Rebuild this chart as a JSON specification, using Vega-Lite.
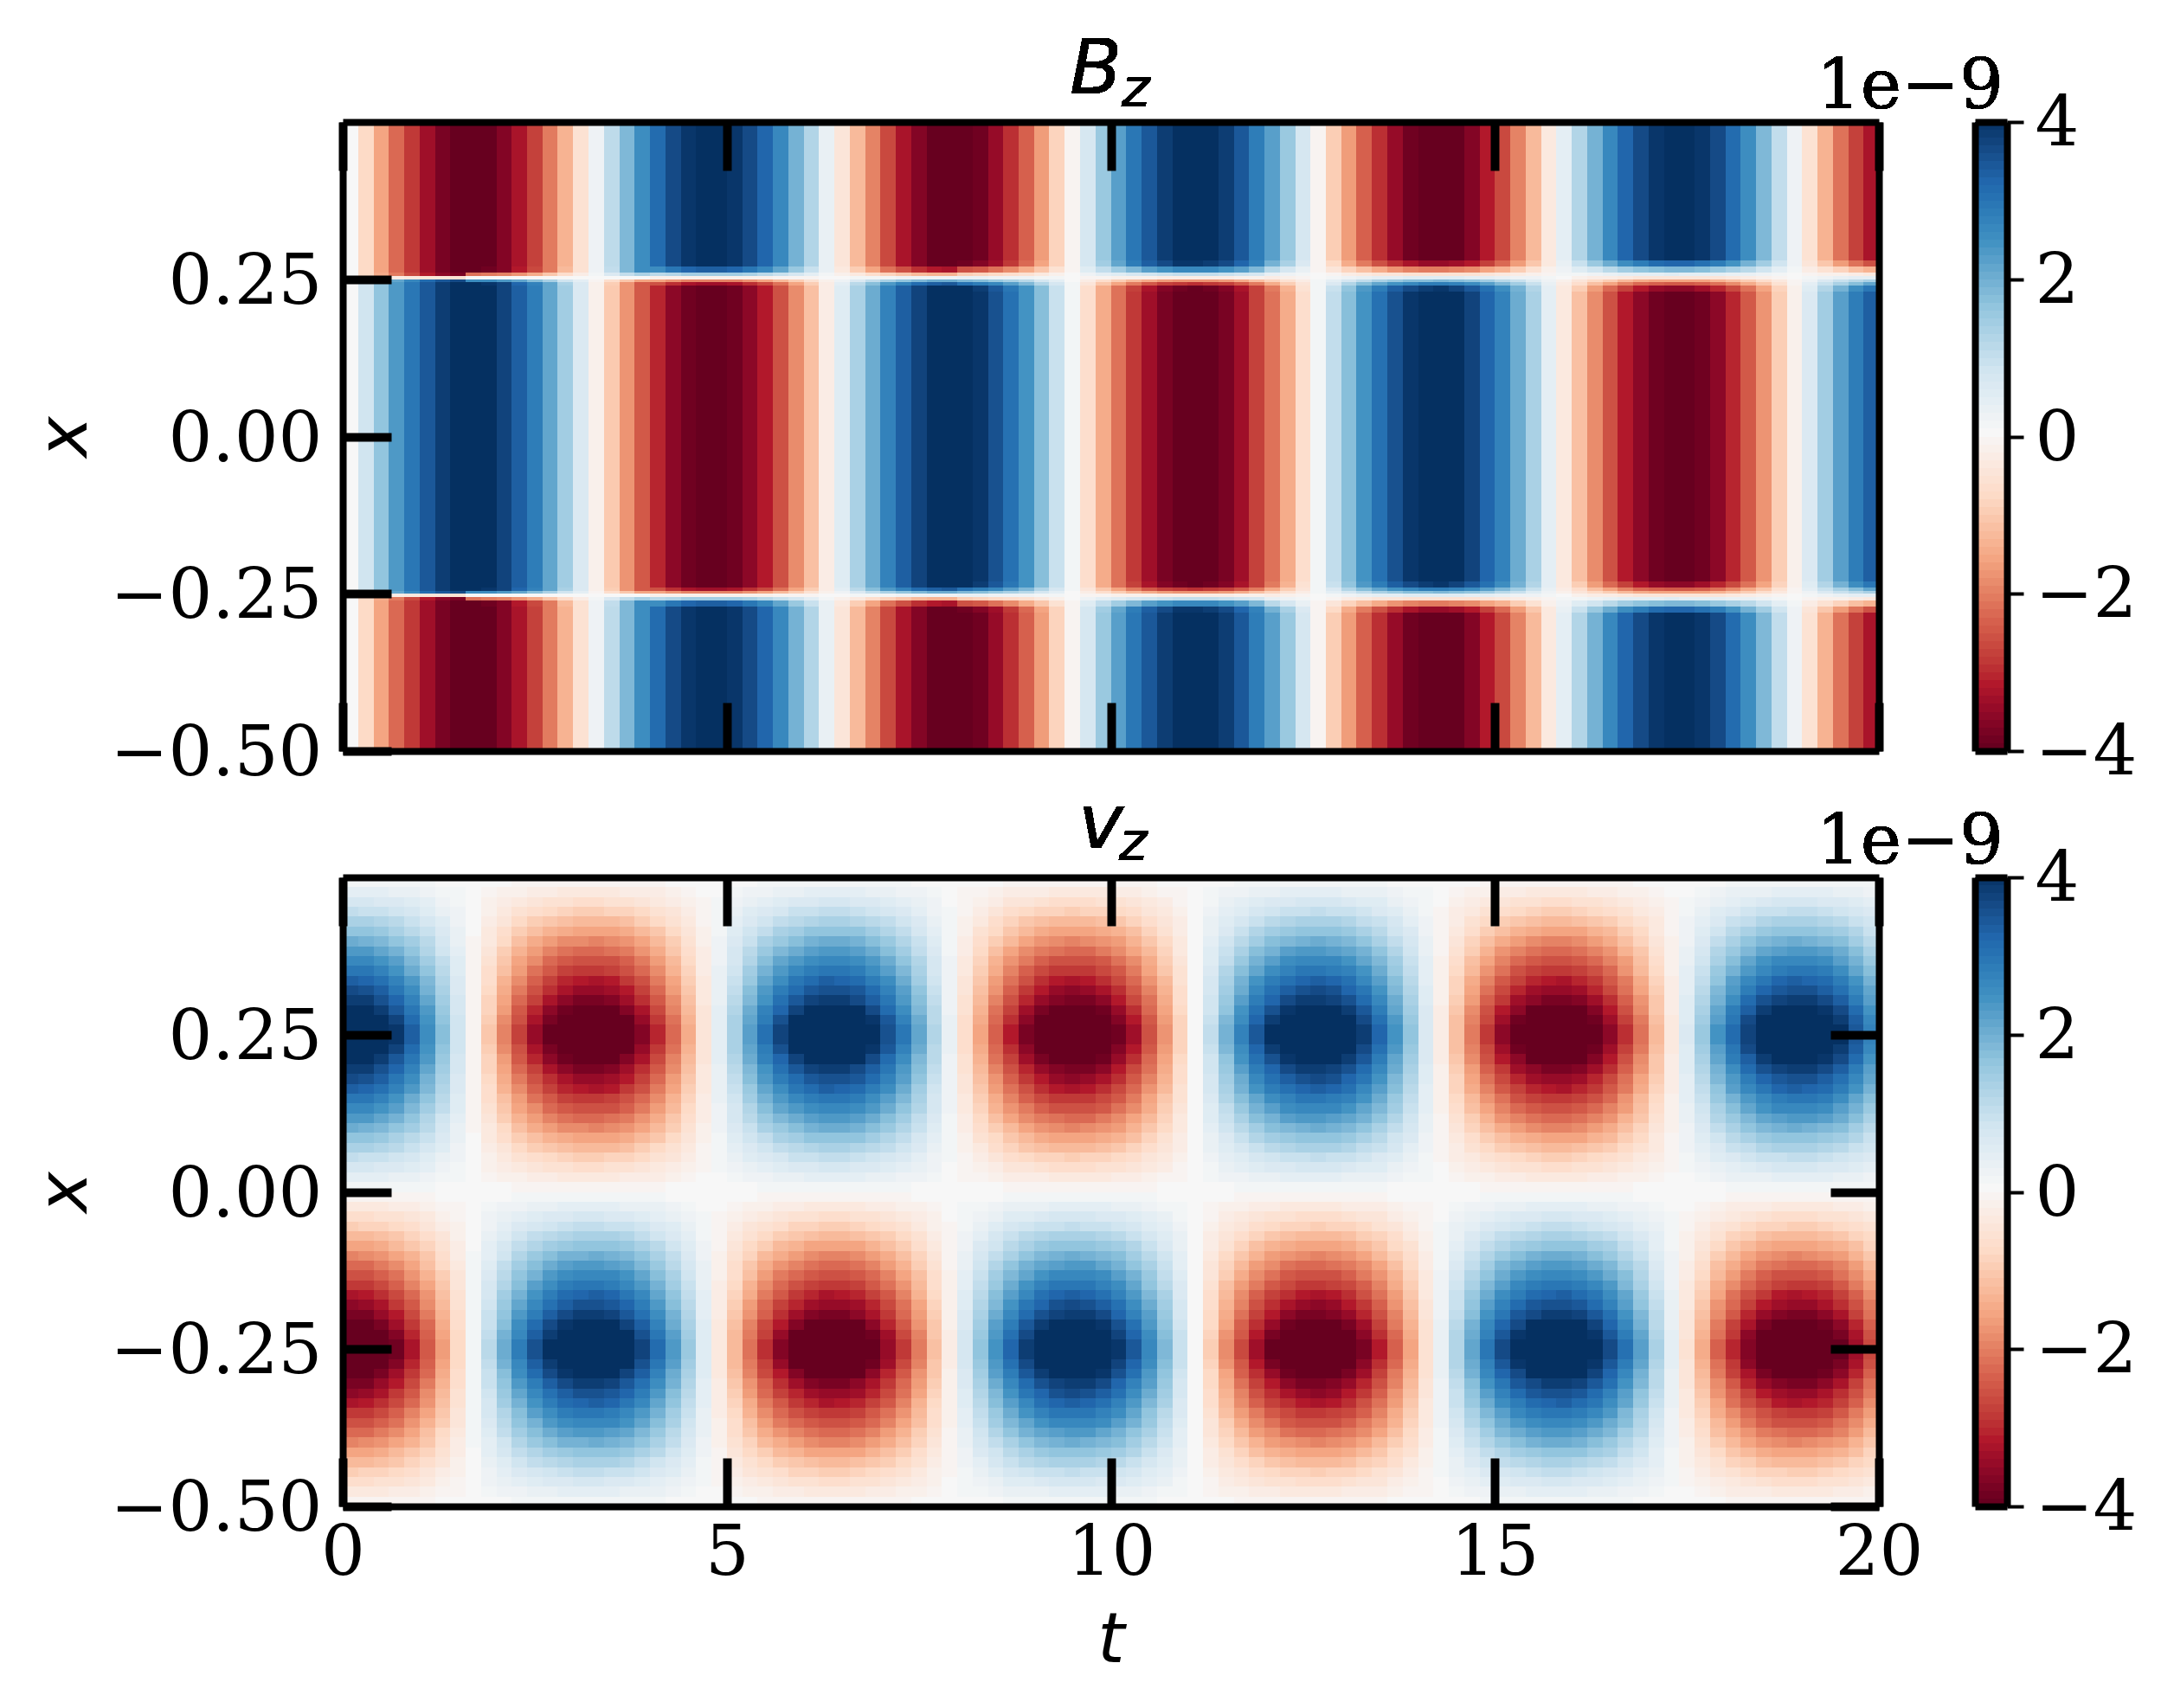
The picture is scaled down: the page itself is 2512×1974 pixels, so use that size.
{"$schema":"https://vega.github.io/schema/vega-lite/v6.json","padding":{"left":35,"top":38,"right":0,"bottom":0},"background":"white","config":{"view":{"stroke":null},"axis":{"grid":false,"domainColor":"black","domainWidth":8,"tickColor":"black","tickWidth":10,"tickSize":-56,"labelFlush":false,"labelOverlap":false,"labelFont":"DejaVu Serif","labelFontSize":80,"labelColor":"black","labelLimit":500,"titleFont":"DejaVu Sans","titleFontSize":80,"titleFontWeight":"normal","titleFontStyle":"italic","titleColor":"black"}},"datasets":{
"bk":[{"k":"o","y1":0.5,"y2":0.28,"y3":-0.5,"y4":-0.28},{"k":"m","y1":0.23,"y2":-0.23,"y3":0.23,"y4":-0.23},{"k":"b","y1":0.28,"y2":0.27,"y3":-0.28,"y4":-0.27},{"k":"c","y1":0.27,"y2":0.26,"y3":-0.27,"y4":-0.26},{"k":"d","y1":0.26,"y2":0.255,"y3":-0.26,"y4":-0.255},{"k":"e","y1":0.255,"y2":0.25,"y3":-0.255,"y4":-0.25},{"k":"f","y1":0.25,"y2":0.245,"y3":-0.25,"y4":-0.245},{"k":"g","y1":0.245,"y2":0.24,"y3":-0.245,"y4":-0.24},{"k":"h","y1":0.24,"y2":0.23,"y3":-0.24,"y4":-0.23}],
"bz":[
{"t":0,"u":0.2,"o":0,"m":0,"b":0,"c":0,"d":0,"e":0,"f":0,"g":0,"h":0},
{"t":0.2,"u":0.4,"o":-0.8,"m":0.8,"b":-0.8,"c":-0.8,"d":-0.8,"e":-0.1,"f":0.7,"g":0.8,"h":0.8},
{"t":0.4,"u":0.6,"o":-1.6,"m":1.6,"b":-1.6,"c":-1.6,"d":-1.5,"e":-0.2,"f":1.4,"g":1.6,"h":1.6},
{"t":0.6,"u":0.8,"o":-2.3,"m":2.3,"b":-2.3,"c":-2.3,"d":-2.1,"e":-0.3,"f":2.1,"g":2.3,"h":2.3},
{"t":0.8,"u":1,"o":-2.9,"m":2.9,"b":-2.9,"c":-2.9,"d":-2.7,"e":-0.4,"f":2.6,"g":2.9,"h":2.9},
{"t":1,"u":1.2,"o":-3.4,"m":3.4,"b":-3.4,"c":-3.4,"d":-3.2,"e":-0.5,"f":3.1,"g":3.4,"h":3.4},
{"t":1.2,"u":1.4,"o":-3.8,"m":3.8,"b":-3.8,"c":-3.8,"d":-3.6,"e":-0.5,"f":3.4,"g":3.8,"h":3.8},
{"t":1.4,"u":1.6,"o":-4,"m":4,"b":-4,"c":-4,"d":-3.8,"e":-0.6,"f":3.6,"g":4,"h":4},
{"t":1.6,"u":1.8,"o":-4.1,"m":4.1,"b":-4.1,"c":-4,"d":-2.2,"e":0,"f":2.5,"g":4,"h":4.1},
{"t":1.8,"u":2,"o":-4,"m":4,"b":-4,"c":-3.9,"d":-2.1,"e":0,"f":2.5,"g":3.9,"h":4},
{"t":2,"u":2.2,"o":-3.7,"m":3.7,"b":-3.7,"c":-3.7,"d":-2,"e":0,"f":2.3,"g":3.7,"h":3.7},
{"t":2.2,"u":2.4,"o":-3.3,"m":3.3,"b":-3.3,"c":-3.2,"d":-1.8,"e":0,"f":2.1,"g":3.2,"h":3.3},
{"t":2.4,"u":2.6,"o":-2.8,"m":2.8,"b":-2.8,"c":-2.7,"d":-1.5,"e":0,"f":1.7,"g":2.7,"h":2.8},
{"t":2.6,"u":2.8,"o":-2.1,"m":2.1,"b":-2.1,"c":-2.1,"d":-1.1,"e":0,"f":1.3,"g":2.1,"h":2.1},
{"t":2.8,"u":3,"o":-1.4,"m":1.4,"b":-1.4,"c":-1.3,"d":-0.7,"e":0,"f":0.8,"g":1.3,"h":1.4},
{"t":3,"u":3.2,"o":-0.6,"m":0.6,"b":-0.6,"c":-0.6,"d":-0.3,"e":0,"f":0.4,"g":0.6,"h":0.6},
{"t":3.2,"u":3.4,"o":0.2,"m":-0.2,"b":0.2,"c":0.2,"d":0.1,"e":0,"f":-0.1,"g":-0.2,"h":-0.2},
{"t":3.4,"u":3.6,"o":1.05,"m":-1.05,"b":1.05,"c":1,"d":0.6,"e":0,"f":-0.7,"g":-1,"h":-1.05},
{"t":3.6,"u":3.8,"o":1.8,"m":-1.8,"b":1.8,"c":1.8,"d":1,"e":0,"f":-1.1,"g":-1.8,"h":-1.8},
{"t":3.8,"u":4,"o":2.5,"m":-2.5,"b":2.5,"c":2.5,"d":1.3,"e":0,"f":-1.6,"g":-2.5,"h":-2.5},
{"t":4,"u":4.2,"o":3.1,"m":-3.1,"b":3.1,"c":2.5,"d":1.1,"e":-0.2,"f":-1.6,"g":-2.6,"h":-3.1},
{"t":4.2,"u":4.4,"o":3.6,"m":-3.6,"b":3.6,"c":2.9,"d":1.2,"e":-0.2,"f":-1.8,"g":-3,"h":-3.6},
{"t":4.4,"u":4.6,"o":3.9,"m":-3.9,"b":3.9,"c":3.2,"d":1.4,"e":-0.2,"f":-2,"g":-3.3,"h":-3.9},
{"t":4.6,"u":4.8,"o":4.1,"m":-4.1,"b":4.1,"c":3.3,"d":1.4,"e":-0.2,"f":-2,"g":-3.4,"h":-4.1},
{"t":4.8,"u":5,"o":4.1,"m":-4.1,"b":4.1,"c":3.3,"d":1.4,"e":-0.2,"f":-2,"g":-3.4,"h":-4.1},
{"t":5,"u":5.2,"o":3.9,"m":-3.9,"b":3.9,"c":3.2,"d":1.4,"e":-0.2,"f":-2,"g":-3.3,"h":-3.9},
{"t":5.2,"u":5.4,"o":3.6,"m":-3.6,"b":3.6,"c":2.9,"d":1.3,"e":-0.2,"f":-1.8,"g":-3,"h":-3.6},
{"t":5.4,"u":5.6,"o":3.2,"m":-3.2,"b":3.2,"c":2.6,"d":1.1,"e":-0.2,"f":-1.6,"g":-2.7,"h":-3.2},
{"t":5.6,"u":5.8,"o":2.6,"m":-2.6,"b":2.6,"c":2.1,"d":0.9,"e":-0.1,"f":-1.3,"g":-2.2,"h":-2.6},
{"t":5.8,"u":6,"o":1.9,"m":-1.9,"b":1.9,"c":1.5,"d":0.7,"e":-0.1,"f":-1,"g":-1.6,"h":-1.9},
{"t":6,"u":6.2,"o":1.2,"m":-1.2,"b":1.2,"c":0.9,"d":0.4,"e":-0.1,"f":-0.6,"g":-1,"h":-1.2},
{"t":6.2,"u":6.4,"o":0.3,"m":-0.3,"b":0.3,"c":0.3,"d":0.1,"e":0,"f":-0.2,"g":-0.3,"h":-0.3},
{"t":6.4,"u":6.6,"o":-0.5,"m":0.5,"b":-0.5,"c":-0.4,"d":-0.2,"e":0,"f":0.2,"g":0.4,"h":0.5},
{"t":6.6,"u":6.8,"o":-1.3,"m":1.3,"b":-1.3,"c":-1,"d":-0.4,"e":0.1,"f":0.6,"g":1.1,"h":1.3},
{"t":6.8,"u":7,"o":-2,"m":2,"b":-2,"c":-1.6,"d":-0.7,"e":0.1,"f":1,"g":1.7,"h":2},
{"t":7,"u":7.2,"o":-2.7,"m":2.7,"b":-2.7,"c":-2.2,"d":-0.9,"e":0.1,"f":1.3,"g":2.3,"h":2.7},
{"t":7.2,"u":7.4,"o":-3.3,"m":3.3,"b":-3.3,"c":-2.6,"d":-1.1,"e":0.2,"f":1.6,"g":2.7,"h":3.3},
{"t":7.4,"u":7.6,"o":-3.7,"m":3.7,"b":-3.7,"c":-3,"d":-1.3,"e":0.2,"f":1.8,"g":3.1,"h":3.7},
{"t":7.6,"u":7.8,"o":-4,"m":4,"b":-4,"c":-3.2,"d":-1.4,"e":0.2,"f":2,"g":3.3,"h":4},
{"t":7.8,"u":8,"o":-4.1,"m":4.1,"b":-4.1,"c":-3.3,"d":-1.4,"e":0.2,"f":2,"g":3.4,"h":4.1},
{"t":8,"u":8.2,"o":-4.1,"m":4.1,"b":-3.9,"c":-2.6,"d":-1,"e":0.3,"f":1.8,"g":3,"h":4},
{"t":8.2,"u":8.4,"o":-3.9,"m":3.9,"b":-3.7,"c":-2.5,"d":-0.9,"e":0.3,"f":1.7,"g":2.8,"h":3.8},
{"t":8.4,"u":8.6,"o":-3.5,"m":3.5,"b":-3.4,"c":-2.2,"d":-0.8,"e":0.2,"f":1.5,"g":2.6,"h":3.4},
{"t":8.6,"u":8.8,"o":-3,"m":3,"b":-2.9,"c":-1.9,"d":-0.7,"e":0.2,"f":1.3,"g":2.2,"h":2.9},
{"t":8.8,"u":9,"o":-2.4,"m":2.4,"b":-2.3,"c":-1.5,"d":-0.6,"e":0.2,"f":1.1,"g":1.8,"h":2.4},
{"t":9,"u":9.2,"o":-1.7,"m":1.7,"b":-1.6,"c":-1.1,"d":-0.4,"e":0.1,"f":0.7,"g":1.2,"h":1.7},
{"t":9.2,"u":9.4,"o":-0.9,"m":0.9,"b":-0.9,"c":-0.6,"d":-0.2,"e":0.1,"f":0.4,"g":0.7,"h":0.9},
{"t":9.4,"u":9.6,"o":-0.1,"m":0.1,"b":-0.1,"c":-0.1,"d":0,"e":0,"f":0,"g":0.1,"h":0.1},
{"t":9.6,"u":9.8,"o":0.7,"m":-0.7,"b":0.7,"c":0.5,"d":0.2,"e":-0.1,"f":-0.3,"g":-0.5,"h":-0.7},
{"t":9.8,"u":10,"o":1.5,"m":-1.5,"b":1.4,"c":1,"d":0.4,"e":-0.1,"f":-0.7,"g":-1.1,"h":-1.5},
{"t":10,"u":10.2,"o":2.2,"m":-2.2,"b":2.1,"c":1.4,"d":0.5,"e":-0.2,"f":-1,"g":-1.6,"h":-2.2},
{"t":10.2,"u":10.4,"o":2.9,"m":-2.9,"b":2.8,"c":1.8,"d":0.7,"e":-0.2,"f":-1.3,"g":-2.1,"h":-2.8},
{"t":10.4,"u":10.6,"o":3.4,"m":-3.4,"b":3.3,"c":2.2,"d":0.8,"e":-0.2,"f":-1.5,"g":-2.5,"h":-3.3},
{"t":10.6,"u":10.8,"o":3.8,"m":-3.8,"b":3.6,"c":2.4,"d":0.9,"e":-0.3,"f":-1.7,"g":-2.8,"h":-3.7},
{"t":10.8,"u":11,"o":4,"m":-4,"b":3.9,"c":2.6,"d":1,"e":-0.3,"f":-1.8,"g":-2.9,"h":-3.9},
{"t":11,"u":11.2,"o":4.1,"m":-4.1,"b":3.9,"c":2.6,"d":1,"e":-0.3,"f":-1.8,"g":-3,"h":-4},
{"t":11.2,"u":11.4,"o":4,"m":-4,"b":3.8,"c":2.6,"d":1,"e":-0.3,"f":-1.8,"g":-2.9,"h":-3.9},
{"t":11.4,"u":11.6,"o":3.8,"m":-3.8,"b":3.6,"c":2.4,"d":0.9,"e":-0.3,"f":-1.7,"g":-2.8,"h":-3.7},
{"t":11.6,"u":11.8,"o":3.4,"m":-3.4,"b":3.2,"c":2.2,"d":0.8,"e":-0.2,"f":-1.5,"g":-2.5,"h":-3.3},
{"t":11.8,"u":12,"o":2.8,"m":-2.8,"b":2.7,"c":1.8,"d":0.7,"e":-0.2,"f":-1.2,"g":-2.1,"h":-2.8},
{"t":12,"u":12.2,"o":2.2,"m":-2.2,"b":1.9,"c":1.1,"d":0.3,"e":-0.3,"f":-0.9,"g":-1.5,"h":-2.1},
{"t":12.2,"u":12.4,"o":1.5,"m":-1.5,"b":1.3,"c":0.7,"d":0.2,"e":-0.2,"f":-0.6,"g":-1,"h":-1.4},
{"t":12.4,"u":12.6,"o":0.7,"m":-0.7,"b":0.6,"c":0.3,"d":0.1,"e":-0.1,"f":-0.3,"g":-0.5,"h":-0.6},
{"t":12.6,"u":12.8,"o":-0.1,"m":0.1,"b":-0.1,"c":-0.1,"d":0,"e":0,"f":0.1,"g":0.1,"h":0.1},
{"t":12.8,"u":13,"o":-1,"m":1,"b":-0.8,"c":-0.5,"d":-0.1,"e":0.1,"f":0.4,"g":0.6,"h":0.9},
{"t":13,"u":13.2,"o":-1.7,"m":1.7,"b":-1.5,"c":-0.9,"d":-0.3,"e":0.2,"f":0.7,"g":1.2,"h":1.6},
{"t":13.2,"u":13.4,"o":-2.4,"m":2.4,"b":-2.1,"c":-1.2,"d":-0.4,"e":0.3,"f":1,"g":1.7,"h":2.3},
{"t":13.4,"u":13.6,"o":-3,"m":3,"b":-2.6,"c":-1.5,"d":-0.5,"e":0.4,"f":1.3,"g":2.1,"h":2.8},
{"t":13.6,"u":13.8,"o":-3.5,"m":3.5,"b":-3,"c":-1.8,"d":-0.5,"e":0.4,"f":1.5,"g":2.4,"h":3.3},
{"t":13.8,"u":14,"o":-3.9,"m":3.9,"b":-3.3,"c":-2,"d":-0.6,"e":0.5,"f":1.7,"g":2.6,"h":3.6},
{"t":14,"u":14.2,"o":-4.1,"m":4.1,"b":-3.5,"c":-2.1,"d":-0.6,"e":0.5,"f":1.7,"g":2.8,"h":3.8},
{"t":14.2,"u":14.4,"o":-4.1,"m":4.1,"b":-3.5,"c":-2.1,"d":-0.6,"e":0.5,"f":1.8,"g":2.8,"h":3.9},
{"t":14.4,"u":14.6,"o":-4,"m":4,"b":-3.4,"c":-2,"d":-0.6,"e":0.5,"f":1.7,"g":2.7,"h":3.7},
{"t":14.6,"u":14.8,"o":-3.7,"m":3.7,"b":-3.2,"c":-1.9,"d":-0.6,"e":0.4,"f":1.6,"g":2.5,"h":3.4},
{"t":14.8,"u":15,"o":-3.2,"m":3.2,"b":-2.8,"c":-1.6,"d":-0.5,"e":0.4,"f":1.4,"g":2.2,"h":3},
{"t":15,"u":15.2,"o":-2.7,"m":2.7,"b":-2.3,"c":-1.4,"d":-0.4,"e":0.3,"f":1.1,"g":1.8,"h":2.5},
{"t":15.2,"u":15.4,"o":-2,"m":2,"b":-1.7,"c":-1,"d":-0.3,"e":0.2,"f":0.9,"g":1.4,"h":1.9},
{"t":15.4,"u":15.6,"o":-1.3,"m":1.3,"b":-1.1,"c":-0.6,"d":-0.2,"e":0.2,"f":0.5,"g":0.9,"h":1.2},
{"t":15.6,"u":15.8,"o":-0.4,"m":0.4,"b":-0.4,"c":-0.2,"d":-0.1,"e":0.1,"f":0.2,"g":0.3,"h":0.4},
{"t":15.8,"u":16,"o":0.4,"m":-0.4,"b":0.3,"c":0.2,"d":0.1,"e":0,"f":-0.2,"g":-0.3,"h":-0.4},
{"t":16,"u":16.2,"o":1.2,"m":-1.2,"b":0.9,"c":0.5,"d":0.1,"e":-0.2,"f":-0.5,"g":-0.7,"h":-1},
{"t":16.2,"u":16.4,"o":1.9,"m":-1.9,"b":1.5,"c":0.8,"d":0.2,"e":-0.3,"f":-0.8,"g":-1.2,"h":-1.7},
{"t":16.4,"u":16.6,"o":2.6,"m":-2.6,"b":2,"c":1.1,"d":0.3,"e":-0.3,"f":-1,"g":-1.6,"h":-2.3},
{"t":16.6,"u":16.8,"o":3.2,"m":-3.2,"b":2.5,"c":1.4,"d":0.4,"e":-0.4,"f":-1.3,"g":-2,"h":-2.8},
{"t":16.8,"u":17,"o":3.6,"m":-3.6,"b":2.8,"c":1.6,"d":0.4,"e":-0.5,"f":-1.5,"g":-2.3,"h":-3.2},
{"t":17,"u":17.2,"o":3.9,"m":-3.9,"b":3.1,"c":1.7,"d":0.4,"e":-0.5,"f":-1.6,"g":-2.4,"h":-3.5},
{"t":17.2,"u":17.4,"o":4.1,"m":-4.1,"b":3.2,"c":1.8,"d":0.5,"e":-0.5,"f":-1.6,"g":-2.5,"h":-3.6},
{"t":17.4,"u":17.6,"o":4.1,"m":-4.1,"b":3.2,"c":1.8,"d":0.4,"e":-0.5,"f":-1.6,"g":-2.5,"h":-3.6},
{"t":17.6,"u":17.8,"o":3.9,"m":-3.9,"b":3,"c":1.7,"d":0.4,"e":-0.5,"f":-1.6,"g":-2.4,"h":-3.4},
{"t":17.8,"u":18,"o":3.6,"m":-3.6,"b":2.8,"c":1.5,"d":0.4,"e":-0.5,"f":-1.4,"g":-2.2,"h":-3.1},
{"t":18,"u":18.2,"o":3.1,"m":-3.1,"b":2.4,"c":1.3,"d":0.3,"e":-0.4,"f":-1.2,"g":-1.9,"h":-2.7},
{"t":18.2,"u":18.4,"o":2.5,"m":-2.5,"b":1.9,"c":1.1,"d":0.3,"e":-0.3,"f":-1,"g":-1.5,"h":-2.2},
{"t":18.4,"u":18.6,"o":1.8,"m":-1.8,"b":1.4,"c":0.8,"d":0.2,"e":-0.2,"f":-0.7,"g":-1.1,"h":-1.6},
{"t":18.6,"u":18.8,"o":1,"m":-1,"b":0.8,"c":0.4,"d":0.1,"e":-0.1,"f":-0.4,"g":-0.6,"h":-0.9},
{"t":18.8,"u":19,"o":0.2,"m":-0.2,"b":0.2,"c":0.1,"d":0,"e":0,"f":-0.1,"g":-0.1,"h":-0.2},
{"t":19,"u":19.2,"o":-0.6,"m":0.6,"b":-0.5,"c":-0.3,"d":-0.1,"e":0.1,"f":0.2,"g":0.4,"h":0.5},
{"t":19.2,"u":19.4,"o":-1.4,"m":1.4,"b":-1.1,"c":-0.6,"d":-0.2,"e":0.2,"f":0.6,"g":0.9,"h":1.2},
{"t":19.4,"u":19.6,"o":-2.2,"m":2.2,"b":-1.7,"c":-0.9,"d":-0.2,"e":0.3,"f":0.9,"g":1.3,"h":1.9},
{"t":19.6,"u":19.8,"o":-2.8,"m":2.8,"b":-2.2,"c":-1.2,"d":-0.3,"e":0.4,"f":1.1,"g":1.7,"h":2.5},
{"t":19.8,"u":20,"o":-3.3,"m":3.3,"b":-2.6,"c":-1.4,"d":-0.4,"e":0.4,"f":1.3,"g":2.1,"h":2.9}],
"bv":[
{"k":"a","y1":0.25,"y2":0.265625,"y3":0.25,"y4":0.234375,"y5":-0.25,"y6":-0.234375,"y7":-0.25,"y8":-0.265625},
{"k":"b","y1":0.265625,"y2":0.28125,"y3":0.234375,"y4":0.21875,"y5":-0.234375,"y6":-0.21875,"y7":-0.265625,"y8":-0.28125},
{"k":"c","y1":0.28125,"y2":0.296875,"y3":0.21875,"y4":0.203125,"y5":-0.21875,"y6":-0.203125,"y7":-0.28125,"y8":-0.296875},
{"k":"d","y1":0.296875,"y2":0.3125,"y3":0.203125,"y4":0.1875,"y5":-0.203125,"y6":-0.1875,"y7":-0.296875,"y8":-0.3125},
{"k":"e","y1":0.3125,"y2":0.328125,"y3":0.1875,"y4":0.171875,"y5":-0.1875,"y6":-0.171875,"y7":-0.3125,"y8":-0.328125},
{"k":"f","y1":0.328125,"y2":0.34375,"y3":0.171875,"y4":0.15625,"y5":-0.171875,"y6":-0.15625,"y7":-0.328125,"y8":-0.34375},
{"k":"g","y1":0.34375,"y2":0.359375,"y3":0.15625,"y4":0.140625,"y5":-0.15625,"y6":-0.140625,"y7":-0.34375,"y8":-0.359375},
{"k":"h","y1":0.359375,"y2":0.375,"y3":0.140625,"y4":0.125,"y5":-0.140625,"y6":-0.125,"y7":-0.359375,"y8":-0.375},
{"k":"i","y1":0.375,"y2":0.390625,"y3":0.125,"y4":0.109375,"y5":-0.125,"y6":-0.109375,"y7":-0.375,"y8":-0.390625},
{"k":"j","y1":0.390625,"y2":0.40625,"y3":0.109375,"y4":0.09375,"y5":-0.109375,"y6":-0.09375,"y7":-0.390625,"y8":-0.40625},
{"k":"l","y1":0.40625,"y2":0.421875,"y3":0.09375,"y4":0.078125,"y5":-0.09375,"y6":-0.078125,"y7":-0.40625,"y8":-0.421875},
{"k":"m","y1":0.421875,"y2":0.4375,"y3":0.078125,"y4":0.0625,"y5":-0.078125,"y6":-0.0625,"y7":-0.421875,"y8":-0.4375},
{"k":"n","y1":0.4375,"y2":0.453125,"y3":0.0625,"y4":0.046875,"y5":-0.0625,"y6":-0.046875,"y7":-0.4375,"y8":-0.453125},
{"k":"p","y1":0.453125,"y2":0.46875,"y3":0.046875,"y4":0.03125,"y5":-0.046875,"y6":-0.03125,"y7":-0.453125,"y8":-0.46875},
{"k":"q","y1":0.46875,"y2":0.484375,"y3":0.03125,"y4":0.015625,"y5":-0.03125,"y6":-0.015625,"y7":-0.46875,"y8":-0.484375},
{"k":"r","y1":0.484375,"y2":0.5,"y3":0.015625,"y4":0,"y5":-0.015625,"y6":0,"y7":-0.484375,"y8":-0.5}],
"vz":[
{"t":0,"u":0.2,"a":4.7,"b":4.5,"c":4.2,"d":3.8,"e":3.6,"f":3.3,"g":2.9,"h":2.6,"i":2.3,"j":2,"l":1.6,"m":1.3,"n":1,"p":0.7,"q":0.4,"r":0.1},
{"t":0.2,"u":0.4,"a":4.6,"b":4.4,"c":4.1,"d":3.8,"e":3.5,"f":3.2,"g":2.9,"h":2.6,"i":2.3,"j":1.9,"l":1.6,"m":1.3,"n":0.9,"p":0.7,"q":0.4,"r":0.1},
{"t":0.4,"u":0.6,"a":4.3,"b":4.1,"c":3.8,"d":3.5,"e":3.3,"f":3,"g":2.7,"h":2.4,"i":2.1,"j":1.8,"l":1.5,"m":1.2,"n":0.9,"p":0.6,"q":0.4,"r":0.1},
{"t":0.6,"u":0.8,"a":3.9,"b":3.7,"c":3.4,"d":3.2,"e":2.9,"f":2.7,"g":2.4,"h":2.2,"i":1.9,"j":1.6,"l":1.3,"m":1.1,"n":0.8,"p":0.6,"q":0.3,"r":0.1},
{"t":0.8,"u":1,"a":3.3,"b":3.1,"c":2.9,"d":2.7,"e":2.5,"f":2.3,"g":2,"h":1.8,"i":1.6,"j":1.4,"l":1.1,"m":0.9,"n":0.7,"p":0.5,"q":0.3,"r":0.1},
{"t":1,"u":1.2,"a":2.5,"b":2.4,"c":2.3,"d":2.1,"e":1.9,"f":1.8,"g":1.6,"h":1.4,"i":1.2,"j":1.1,"l":0.9,"m":0.7,"n":0.5,"p":0.4,"q":0.2,"r":0.1},
{"t":1.2,"u":1.4,"a":1.7,"b":1.6,"c":1.5,"d":1.4,"e":1.3,"f":1.2,"g":1.1,"h":1,"i":0.8,"j":0.7,"l":0.6,"m":0.5,"n":0.3,"p":0.2,"q":0.1,"r":0},
{"t":1.4,"u":1.6,"a":0.8,"b":0.8,"c":0.7,"d":0.7,"e":0.6,"f":0.6,"g":0.5,"h":0.5,"i":0.4,"j":0.3,"l":0.3,"m":0.2,"n":0.2,"p":0.1,"q":0.1,"r":0},
{"t":1.6,"u":1.8,"a":-0.1,"b":-0.1,"c":-0.1,"d":-0.1,"e":-0.1,"f":-0.1,"g":-0.1,"h":-0.1,"i":-0.1,"j":-0.1,"l":0,"m":0,"n":0,"p":0,"q":0,"r":0},
{"t":1.8,"u":2,"a":-1.1,"b":-1,"c":-0.9,"d":-0.9,"e":-0.8,"f":-0.7,"g":-0.7,"h":-0.6,"i":-0.5,"j":-0.4,"l":-0.4,"m":-0.3,"n":-0.2,"p":-0.2,"q":-0.1,"r":0},
{"t":2,"u":2.2,"a":-2,"b":-1.9,"c":-1.7,"d":-1.6,"e":-1.5,"f":-1.4,"g":-1.2,"h":-1.1,"i":-1,"j":-0.8,"l":-0.7,"m":-0.5,"n":-0.4,"p":-0.3,"q":-0.2,"r":0},
{"t":2.2,"u":2.4,"a":-2.8,"b":-2.6,"c":-2.5,"d":-2.3,"e":-2.1,"f":-1.9,"g":-1.7,"h":-1.6,"i":-1.4,"j":-1.2,"l":-1,"m":-0.8,"n":-0.6,"p":-0.4,"q":-0.2,"r":-0.1},
{"t":2.4,"u":2.6,"a":-3.5,"b":-3.3,"c":-3.1,"d":-2.8,"e":-2.6,"f":-2.4,"g":-2.2,"h":-1.9,"i":-1.7,"j":-1.5,"l":-1.2,"m":-1,"n":-0.7,"p":-0.5,"q":-0.3,"r":-0.1},
{"t":2.6,"u":2.8,"a":-4,"b":-3.8,"c":-3.6,"d":-3.3,"e":-3,"f":-2.8,"g":-2.5,"h":-2.3,"i":-2,"j":-1.7,"l":-1.4,"m":-1.1,"n":-0.8,"p":-0.6,"q":-0.3,"r":-0.1},
{"t":2.8,"u":3,"a":-4.4,"b":-4.2,"c":-3.9,"d":-3.6,"e":-3.3,"f":-3.1,"g":-2.8,"h":-2.5,"i":-2.2,"j":-1.9,"l":-1.5,"m":-1.2,"n":-0.9,"p":-0.6,"q":-0.4,"r":-0.1},
{"t":3,"u":3.2,"a":-4.7,"b":-4.4,"c":-4.1,"d":-3.8,"e":-3.5,"f":-3.2,"g":-2.9,"h":-2.6,"i":-2.3,"j":-1.9,"l":-1.6,"m":-1.3,"n":-1,"p":-0.7,"q":-0.4,"r":-0.1},
{"t":3.2,"u":3.4,"a":-4.7,"b":-4.5,"c":-4.2,"d":-3.8,"e":-3.5,"f":-3.3,"g":-2.9,"h":-2.6,"i":-2.3,"j":-2,"l":-1.6,"m":-1.3,"n":-1,"p":-0.7,"q":-0.4,"r":-0.1},
{"t":3.4,"u":3.6,"a":-4.5,"b":-4.3,"c":-4,"d":-3.7,"e":-3.4,"f":-3.2,"g":-2.8,"h":-2.6,"i":-2.2,"j":-1.9,"l":-1.6,"m":-1.3,"n":-0.9,"p":-0.6,"q":-0.4,"r":-0.1},
{"t":3.6,"u":3.8,"a":-4.2,"b":-4,"c":-3.7,"d":-3.4,"e":-3.2,"f":-2.9,"g":-2.6,"h":-2.4,"i":-2.1,"j":-1.8,"l":-1.5,"m":-1.2,"n":-0.9,"p":-0.6,"q":-0.3,"r":-0.1},
{"t":3.8,"u":4,"a":-3.7,"b":-3.5,"c":-3.3,"d":-3,"e":-2.8,"f":-2.6,"g":-2.3,"h":-2.1,"i":-1.8,"j":-1.6,"l":-1.3,"m":-1,"n":-0.8,"p":-0.5,"q":-0.3,"r":-0.1},
{"t":4,"u":4.2,"a":-3.1,"b":-2.9,"c":-2.7,"d":-2.5,"e":-2.3,"f":-2.1,"g":-1.9,"h":-1.7,"i":-1.5,"j":-1.3,"l":-1.1,"m":-0.8,"n":-0.6,"p":-0.4,"q":-0.3,"r":-0.1},
{"t":4.2,"u":4.4,"a":-2.3,"b":-2.2,"c":-2,"d":-1.9,"e":-1.7,"f":-1.6,"g":-1.4,"h":-1.3,"i":-1.1,"j":-1,"l":-0.8,"m":-0.6,"n":-0.5,"p":-0.3,"q":-0.2,"r":0},
{"t":4.4,"u":4.6,"a":-1.5,"b":-1.4,"c":-1.3,"d":-1.2,"e":-1.1,"f":-1,"g":-0.9,"h":-0.8,"i":-0.7,"j":-0.6,"l":-0.5,"m":-0.4,"n":-0.3,"p":-0.2,"q":-0.1,"r":0},
{"t":4.6,"u":4.8,"a":-0.5,"b":-0.5,"c":-0.5,"d":-0.4,"e":-0.4,"f":-0.4,"g":-0.3,"h":-0.3,"i":-0.3,"j":-0.2,"l":-0.2,"m":-0.1,"n":-0.1,"p":-0.1,"q":0,"r":0},
{"t":4.8,"u":5,"a":0.4,"b":0.4,"c":0.4,"d":0.3,"e":0.3,"f":0.3,"g":0.3,"h":0.2,"i":0.2,"j":0.2,"l":0.1,"m":0.1,"n":0.1,"p":0.1,"q":0,"r":0},
{"t":5,"u":5.2,"a":1.3,"b":1.3,"c":1.2,"d":1.1,"e":1,"f":0.9,"g":0.8,"h":0.7,"i":0.7,"j":0.6,"l":0.5,"m":0.4,"n":0.3,"p":0.2,"q":0.1,"r":0},
{"t":5.2,"u":5.4,"a":2.2,"b":2.1,"c":2,"d":1.8,"e":1.7,"f":1.5,"g":1.4,"h":1.2,"i":1.1,"j":0.9,"l":0.8,"m":0.6,"n":0.5,"p":0.3,"q":0.2,"r":0},
{"t":5.4,"u":5.6,"a":3,"b":2.8,"c":2.7,"d":2.4,"e":2.3,"f":2.1,"g":1.9,"h":1.7,"i":1.5,"j":1.3,"l":1,"m":0.8,"n":0.6,"p":0.4,"q":0.2,"r":0.1},
{"t":5.6,"u":5.8,"a":3.7,"b":3.5,"c":3.2,"d":3,"e":2.8,"f":2.5,"g":2.3,"h":2.1,"i":1.8,"j":1.5,"l":1.3,"m":1,"n":0.7,"p":0.5,"q":0.3,"r":0.1},
{"t":5.8,"u":6,"a":4.2,"b":4,"c":3.7,"d":3.4,"e":3.1,"f":2.9,"g":2.6,"h":2.3,"i":2,"j":1.7,"l":1.4,"m":1.1,"n":0.9,"p":0.6,"q":0.3,"r":0.1},
{"t":6,"u":6.2,"a":4.5,"b":4.3,"c":4,"d":3.7,"e":3.4,"f":3.1,"g":2.8,"h":2.5,"i":2.2,"j":1.9,"l":1.6,"m":1.2,"n":0.9,"p":0.6,"q":0.4,"r":0.1},
{"t":6.2,"u":6.4,"a":4.7,"b":4.4,"c":4.2,"d":3.8,"e":3.5,"f":3.3,"g":2.9,"h":2.6,"i":2.3,"j":2,"l":1.6,"m":1.3,"n":1,"p":0.7,"q":0.4,"r":0.1},
{"t":6.4,"u":6.6,"a":4.7,"b":4.4,"c":4.1,"d":3.8,"e":3.5,"f":3.2,"g":2.9,"h":2.6,"i":2.3,"j":2,"l":1.6,"m":1.3,"n":1,"p":0.7,"q":0.4,"r":0.1},
{"t":6.6,"u":6.8,"a":4.5,"b":4.2,"c":4,"d":3.6,"e":3.4,"f":3.1,"g":2.8,"h":2.5,"i":2.2,"j":1.9,"l":1.6,"m":1.2,"n":0.9,"p":0.6,"q":0.4,"r":0.1},
{"t":6.8,"u":7,"a":4.1,"b":3.9,"c":3.6,"d":3.3,"e":3.1,"f":2.8,"g":2.5,"h":2.3,"i":2,"j":1.7,"l":1.4,"m":1.1,"n":0.8,"p":0.6,"q":0.3,"r":0.1},
{"t":7,"u":7.2,"a":3.5,"b":3.4,"c":3.1,"d":2.9,"e":2.7,"f":2.5,"g":2.2,"h":2,"i":1.7,"j":1.5,"l":1.2,"m":1,"n":0.7,"p":0.5,"q":0.3,"r":0.1},
{"t":7.2,"u":7.4,"a":2.9,"b":2.7,"c":2.5,"d":2.3,"e":2.2,"f":2,"g":1.8,"h":1.6,"i":1.4,"j":1.2,"l":1,"m":0.8,"n":0.6,"p":0.4,"q":0.2,"r":0.1},
{"t":7.4,"u":7.6,"a":2.1,"b":2,"c":1.8,"d":1.7,"e":1.6,"f":1.4,"g":1.3,"h":1.2,"i":1,"j":0.9,"l":0.7,"m":0.6,"n":0.4,"p":0.3,"q":0.2,"r":0},
{"t":7.6,"u":7.8,"a":1.2,"b":1.1,"c":1.1,"d":1,"e":0.9,"f":0.8,"g":0.7,"h":0.7,"i":0.6,"j":0.5,"l":0.4,"m":0.3,"n":0.2,"p":0.2,"q":0.1,"r":0},
{"t":7.8,"u":8,"a":0.3,"b":0.3,"c":0.2,"d":0.2,"e":0.2,"f":0.2,"g":0.2,"h":0.2,"i":0.1,"j":0.1,"l":0.1,"m":0.1,"n":0.1,"p":0,"q":0,"r":0},
{"t":8,"u":8.2,"a":-0.7,"b":-0.7,"c":-0.6,"d":-0.6,"e":-0.5,"f":-0.5,"g":-0.4,"h":-0.4,"i":-0.3,"j":-0.3,"l":-0.2,"m":-0.2,"n":-0.1,"p":-0.1,"q":-0.1,"r":0},
{"t":8.2,"u":8.4,"a":-1.6,"b":-1.5,"c":-1.4,"d":-1.3,"e":-1.2,"f":-1.1,"g":-1,"h":-0.9,"i":-0.8,"j":-0.7,"l":-0.6,"m":-0.4,"n":-0.3,"p":-0.2,"q":-0.1,"r":0},
{"t":8.4,"u":8.6,"a":-2.4,"b":-2.3,"c":-2.2,"d":-2,"e":-1.8,"f":-1.7,"g":-1.5,"h":-1.4,"i":-1.2,"j":-1,"l":-0.8,"m":-0.7,"n":-0.5,"p":-0.3,"q":-0.2,"r":0},
{"t":8.6,"u":8.8,"a":-3.2,"b":-3,"c":-2.8,"d":-2.6,"e":-2.4,"f":-2.2,"g":-2,"h":-1.8,"i":-1.6,"j":-1.3,"l":-1.1,"m":-0.9,"n":-0.7,"p":-0.5,"q":-0.3,"r":-0.1},
{"t":8.8,"u":9,"a":-3.8,"b":-3.6,"c":-3.4,"d":-3.1,"e":-2.9,"f":-2.6,"g":-2.4,"h":-2.1,"i":-1.9,"j":-1.6,"l":-1.3,"m":-1.1,"n":-0.8,"p":-0.5,"q":-0.3,"r":-0.1},
{"t":9,"u":9.2,"a":-4.3,"b":-4.1,"c":-3.8,"d":-3.5,"e":-3.2,"f":-3,"g":-2.7,"h":-2.4,"i":-2.1,"j":-1.8,"l":-1.5,"m":-1.2,"n":-0.9,"p":-0.6,"q":-0.3,"r":-0.1},
{"t":9.2,"u":9.4,"a":-4.6,"b":-4.4,"c":-4.1,"d":-3.7,"e":-3.5,"f":-3.2,"g":-2.9,"h":-2.6,"i":-2.2,"j":-1.9,"l":-1.6,"m":-1.3,"n":-0.9,"p":-0.7,"q":-0.4,"r":-0.1},
{"t":9.4,"u":9.6,"a":-4.7,"b":-4.5,"c":-4.2,"d":-3.8,"e":-3.6,"f":-3.3,"g":-2.9,"h":-2.6,"i":-2.3,"j":-2,"l":-1.6,"m":-1.3,"n":-1,"p":-0.7,"q":-0.4,"r":-0.1},
{"t":9.6,"u":9.8,"a":-4.6,"b":-4.4,"c":-4.1,"d":-3.8,"e":-3.5,"f":-3.2,"g":-2.9,"h":-2.6,"i":-2.3,"j":-1.9,"l":-1.6,"m":-1.3,"n":-0.9,"p":-0.7,"q":-0.4,"r":-0.1},
{"t":9.8,"u":10,"a":-4.4,"b":-4.2,"c":-3.9,"d":-3.6,"e":-3.3,"f":-3,"g":-2.7,"h":-2.5,"i":-2.1,"j":-1.8,"l":-1.5,"m":-1.2,"n":-0.9,"p":-0.6,"q":-0.4,"r":-0.1},
{"t":10,"u":10.2,"a":-3.9,"b":-3.7,"c":-3.5,"d":-3.2,"e":-3,"f":-2.7,"g":-2.5,"h":-2.2,"i":-1.9,"j":-1.7,"l":-1.4,"m":-1.1,"n":-0.8,"p":-0.6,"q":-0.3,"r":-0.1},
{"t":10.2,"u":10.4,"a":-3.4,"b":-3.2,"c":-3,"d":-2.7,"e":-2.5,"f":-2.3,"g":-2.1,"h":-1.9,"i":-1.6,"j":-1.4,"l":-1.2,"m":-0.9,"n":-0.7,"p":-0.5,"q":-0.3,"r":-0.1},
{"t":10.4,"u":10.6,"a":-2.6,"b":-2.5,"c":-2.3,"d":-2.2,"e":-2,"f":-1.8,"g":-1.6,"h":-1.5,"i":-1.3,"j":-1.1,"l":-0.9,"m":-0.7,"n":-0.5,"p":-0.4,"q":-0.2,"r":-0.1},
{"t":10.6,"u":10.8,"a":-1.8,"b":-1.7,"c":-1.6,"d":-1.5,"e":-1.4,"f":-1.3,"g":-1.1,"h":-1,"i":-0.9,"j":-0.8,"l":-0.6,"m":-0.5,"n":-0.4,"p":-0.3,"q":-0.1,"r":0},
{"t":10.8,"u":11,"a":-0.9,"b":-0.9,"c":-0.8,"d":-0.7,"e":-0.7,"f":-0.6,"g":-0.6,"h":-0.5,"i":-0.4,"j":-0.4,"l":-0.3,"m":-0.3,"n":-0.2,"p":-0.1,"q":-0.1,"r":0},
{"t":11,"u":11.2,"a":0,"b":0,"c":0,"d":0,"e":0,"f":0,"g":0,"h":0,"i":0,"j":0,"l":0,"m":0,"n":0,"p":0,"q":0,"r":0},
{"t":11.2,"u":11.4,"a":1,"b":0.9,"c":0.8,"d":0.8,"e":0.7,"f":0.7,"g":0.6,"h":0.5,"i":0.5,"j":0.4,"l":0.3,"m":0.3,"n":0.2,"p":0.1,"q":0.1,"r":0},
{"t":11.4,"u":11.6,"a":1.9,"b":1.8,"c":1.6,"d":1.5,"e":1.4,"f":1.3,"g":1.2,"h":1,"i":0.9,"j":0.8,"l":0.6,"m":0.5,"n":0.4,"p":0.3,"q":0.2,"r":0},
{"t":11.6,"u":11.8,"a":2.7,"b":2.5,"c":2.4,"d":2.2,"e":2,"f":1.9,"g":1.7,"h":1.5,"i":1.3,"j":1.1,"l":0.9,"m":0.7,"n":0.5,"p":0.4,"q":0.2,"r":0.1},
{"t":11.8,"u":12,"a":3.4,"b":3.2,"c":3,"d":2.8,"e":2.6,"f":2.4,"g":2.1,"h":1.9,"i":1.7,"j":1.4,"l":1.2,"m":0.9,"n":0.7,"p":0.5,"q":0.3,"r":0.1},
{"t":12,"u":12.2,"a":4,"b":3.8,"c":3.5,"d":3.2,"e":3,"f":2.8,"g":2.5,"h":2.2,"i":1.9,"j":1.7,"l":1.4,"m":1.1,"n":0.8,"p":0.6,"q":0.3,"r":0.1},
{"t":12.2,"u":12.4,"a":4.4,"b":4.2,"c":3.9,"d":3.6,"e":3.3,"f":3,"g":2.7,"h":2.5,"i":2.2,"j":1.8,"l":1.5,"m":1.2,"n":0.9,"p":0.6,"q":0.4,"r":0.1},
{"t":12.4,"u":12.6,"a":4.6,"b":4.4,"c":4.1,"d":3.8,"e":3.5,"f":3.2,"g":2.9,"h":2.6,"i":2.3,"j":1.9,"l":1.6,"m":1.3,"n":0.9,"p":0.7,"q":0.4,"r":0.1},
{"t":12.6,"u":12.8,"a":4.7,"b":4.5,"c":4.2,"d":3.8,"e":3.6,"f":3.3,"g":2.9,"h":2.6,"i":2.3,"j":2,"l":1.6,"m":1.3,"n":1,"p":0.7,"q":0.4,"r":0.1},
{"t":12.8,"u":13,"a":4.6,"b":4.3,"c":4.1,"d":3.7,"e":3.5,"f":3.2,"g":2.8,"h":2.6,"i":2.2,"j":1.9,"l":1.6,"m":1.3,"n":0.9,"p":0.7,"q":0.4,"r":0.1},
{"t":13,"u":13.2,"a":4.3,"b":4.1,"c":3.8,"d":3.5,"e":3.2,"f":3,"g":2.7,"h":2.4,"i":2.1,"j":1.8,"l":1.5,"m":1.2,"n":0.9,"p":0.6,"q":0.3,"r":0.1},
{"t":13.2,"u":13.4,"a":3.8,"b":3.6,"c":3.4,"d":3.1,"e":2.9,"f":2.6,"g":2.4,"h":2.1,"i":1.9,"j":1.6,"l":1.3,"m":1,"n":0.8,"p":0.5,"q":0.3,"r":0.1},
{"t":13.4,"u":13.6,"a":3.2,"b":3,"c":2.8,"d":2.6,"e":2.4,"f":2.2,"g":2,"h":1.8,"i":1.6,"j":1.3,"l":1.1,"m":0.9,"n":0.6,"p":0.5,"q":0.3,"r":0.1},
{"t":13.6,"u":13.8,"a":2.4,"b":2.3,"c":2.1,"d":2,"e":1.8,"f":1.7,"g":1.5,"h":1.4,"i":1.2,"j":1,"l":0.8,"m":0.7,"n":0.5,"p":0.3,"q":0.2,"r":0},
{"t":13.8,"u":14,"a":1.6,"b":1.5,"c":1.4,"d":1.3,"e":1.2,"f":1.1,"g":1,"h":0.9,"i":0.8,"j":0.7,"l":0.6,"m":0.4,"n":0.3,"p":0.2,"q":0.1,"r":0},
{"t":14,"u":14.2,"a":0.6,"b":0.6,"c":0.6,"d":0.5,"e":0.5,"f":0.4,"g":0.4,"h":0.4,"i":0.3,"j":0.3,"l":0.2,"m":0.2,"n":0.1,"p":0.1,"q":0.1,"r":0},
{"t":14.2,"u":14.4,"a":-0.3,"b":-0.3,"c":-0.3,"d":-0.2,"e":-0.2,"f":-0.2,"g":-0.2,"h":-0.2,"i":-0.1,"j":-0.1,"l":-0.1,"m":-0.1,"n":-0.1,"p":0,"q":0,"r":0},
{"t":14.4,"u":14.6,"a":-1.2,"b":-1.2,"c":-1.1,"d":-1,"e":-0.9,"f":-0.9,"g":-0.8,"h":-0.7,"i":-0.6,"j":-0.5,"l":-0.4,"m":-0.3,"n":-0.3,"p":-0.2,"q":-0.1,"r":0},
{"t":14.6,"u":14.8,"a":-2.1,"b":-2,"c":-1.9,"d":-1.7,"e":-1.6,"f":-1.5,"g":-1.3,"h":-1.2,"i":-1,"j":-0.9,"l":-0.7,"m":-0.6,"n":-0.4,"p":-0.3,"q":-0.2,"r":0},
{"t":14.8,"u":15,"a":-2.9,"b":-2.7,"c":-2.6,"d":-2.4,"e":-2.2,"f":-2,"g":-1.8,"h":-1.6,"i":-1.4,"j":-1.2,"l":-1,"m":-0.8,"n":-0.6,"p":-0.4,"q":-0.2,"r":-0.1},
{"t":15,"u":15.2,"a":-3.6,"b":-3.4,"c":-3.2,"d":-2.9,"e":-2.7,"f":-2.5,"g":-2.2,"h":-2,"i":-1.8,"j":-1.5,"l":-1.2,"m":-1,"n":-0.7,"p":-0.5,"q":-0.3,"r":-0.1},
{"t":15.2,"u":15.4,"a":-4.1,"b":-3.9,"c":-3.6,"d":-3.4,"e":-3.1,"f":-2.8,"g":-2.6,"h":-2.3,"i":-2,"j":-1.7,"l":-1.4,"m":-1.1,"n":-0.8,"p":-0.6,"q":-0.3,"r":-0.1},
{"t":15.4,"u":15.6,"a":-4.5,"b":-4.2,"c":-4,"d":-3.6,"e":-3.4,"f":-3.1,"g":-2.8,"h":-2.5,"i":-2.2,"j":-1.9,"l":-1.5,"m":-1.2,"n":-0.9,"p":-0.6,"q":-0.4,"r":-0.1},
{"t":15.6,"u":15.8,"a":-4.7,"b":-4.4,"c":-4.1,"d":-3.8,"e":-3.5,"f":-3.2,"g":-2.9,"h":-2.6,"i":-2.3,"j":-2,"l":-1.6,"m":-1.3,"n":-1,"p":-0.7,"q":-0.4,"r":-0.1},
{"t":15.8,"u":16,"a":-4.7,"b":-4.5,"c":-4.2,"d":-3.8,"e":-3.5,"f":-3.3,"g":-2.9,"h":-2.6,"i":-2.3,"j":-2,"l":-1.6,"m":-1.3,"n":-1,"p":-0.7,"q":-0.4,"r":-0.1},
{"t":16,"u":16.2,"a":-4.5,"b":-4.3,"c":-4,"d":-3.7,"e":-3.4,"f":-3.1,"g":-2.8,"h":-2.5,"i":-2.2,"j":-1.9,"l":-1.6,"m":-1.2,"n":-0.9,"p":-0.6,"q":-0.4,"r":-0.1},
{"t":16.2,"u":16.4,"a":-4.1,"b":-3.9,"c":-3.7,"d":-3.4,"e":-3.1,"f":-2.9,"g":-2.6,"h":-2.3,"i":-2,"j":-1.7,"l":-1.4,"m":-1.1,"n":-0.8,"p":-0.6,"q":-0.3,"r":-0.1},
{"t":16.4,"u":16.6,"a":-3.6,"b":-3.4,"c":-3.2,"d":-3,"e":-2.7,"f":-2.5,"g":-2.3,"h":-2,"i":-1.8,"j":-1.5,"l":-1.3,"m":-1,"n":-0.7,"p":-0.5,"q":-0.3,"r":-0.1},
{"t":16.6,"u":16.8,"a":-3,"b":-2.8,"c":-2.6,"d":-2.4,"e":-2.2,"f":-2.1,"g":-1.8,"h":-1.7,"i":-1.4,"j":-1.2,"l":-1,"m":-0.8,"n":-0.6,"p":-0.4,"q":-0.2,"r":-0.1},
{"t":16.8,"u":17,"a":-2.2,"b":-2.1,"c":-1.9,"d":-1.8,"e":-1.6,"f":-1.5,"g":-1.3,"h":-1.2,"i":-1.1,"j":-0.9,"l":-0.8,"m":-0.6,"n":-0.4,"p":-0.3,"q":-0.2,"r":0},
{"t":17,"u":17.2,"a":-1.3,"b":-1.2,"c":-1.1,"d":-1.1,"e":-1,"f":-0.9,"g":-0.8,"h":-0.7,"i":-0.6,"j":-0.5,"l":-0.4,"m":-0.4,"n":-0.3,"p":-0.2,"q":-0.1,"r":0},
{"t":17.2,"u":17.4,"a":-0.4,"b":-0.4,"c":-0.3,"d":-0.3,"e":-0.3,"f":-0.3,"g":-0.2,"h":-0.2,"i":-0.2,"j":-0.2,"l":-0.1,"m":-0.1,"n":-0.1,"p":-0.1,"q":0,"r":0},
{"t":17.4,"u":17.6,"a":0.6,"b":0.5,"c":0.5,"d":0.5,"e":0.4,"f":0.4,"g":0.4,"h":0.3,"i":0.3,"j":0.2,"l":0.2,"m":0.2,"n":0.1,"p":0.1,"q":0,"r":0},
{"t":17.6,"u":17.8,"a":1.5,"b":1.4,"c":1.3,"d":1.2,"e":1.1,"f":1,"g":0.9,"h":0.8,"i":0.7,"j":0.6,"l":0.5,"m":0.4,"n":0.3,"p":0.2,"q":0.1,"r":0},
{"t":17.8,"u":18,"a":2.4,"b":2.2,"c":2.1,"d":1.9,"e":1.8,"f":1.6,"g":1.5,"h":1.3,"i":1.2,"j":1,"l":0.8,"m":0.6,"n":0.5,"p":0.3,"q":0.2,"r":0},
{"t":18,"u":18.2,"a":3.1,"b":2.9,"c":2.8,"d":2.5,"e":2.3,"f":2.2,"g":1.9,"h":1.7,"i":1.5,"j":1.3,"l":1.1,"m":0.9,"n":0.6,"p":0.4,"q":0.3,"r":0.1},
{"t":18.2,"u":18.4,"a":3.7,"b":3.6,"c":3.3,"d":3.1,"e":2.8,"f":2.6,"g":2.3,"h":2.1,"i":1.8,"j":1.6,"l":1.3,"m":1,"n":0.8,"p":0.5,"q":0.3,"r":0.1},
{"t":18.4,"u":18.6,"a":4.2,"b":4,"c":3.8,"d":3.5,"e":3.2,"f":2.9,"g":2.6,"h":2.4,"i":2.1,"j":1.8,"l":1.5,"m":1.2,"n":0.9,"p":0.6,"q":0.3,"r":0.1},
{"t":18.6,"u":18.8,"a":4.6,"b":4.3,"c":4,"d":3.7,"e":3.4,"f":3.2,"g":2.8,"h":2.6,"i":2.2,"j":1.9,"l":1.6,"m":1.3,"n":0.9,"p":0.7,"q":0.4,"r":0.1},
{"t":18.8,"u":19,"a":4.7,"b":4.5,"c":4.2,"d":3.8,"e":3.5,"f":3.3,"g":2.9,"h":2.6,"i":2.3,"j":2,"l":1.6,"m":1.3,"n":1,"p":0.7,"q":0.4,"r":0.1},
{"t":19,"u":19.2,"a":4.7,"b":4.4,"c":4.1,"d":3.8,"e":3.5,"f":3.2,"g":2.9,"h":2.6,"i":2.3,"j":1.9,"l":1.6,"m":1.3,"n":1,"p":0.7,"q":0.4,"r":0.1},
{"t":19.2,"u":19.4,"a":4.4,"b":4.2,"c":3.9,"d":3.6,"e":3.3,"f":3.1,"g":2.8,"h":2.5,"i":2.2,"j":1.8,"l":1.5,"m":1.2,"n":0.9,"p":0.6,"q":0.4,"r":0.1},
{"t":19.4,"u":19.6,"a":4,"b":3.8,"c":3.6,"d":3.3,"e":3,"f":2.8,"g":2.5,"h":2.2,"i":2,"j":1.7,"l":1.4,"m":1.1,"n":0.8,"p":0.6,"q":0.3,"r":0.1},
{"t":19.6,"u":19.8,"a":3.4,"b":3.3,"c":3.1,"d":2.8,"e":2.6,"f":2.4,"g":2.1,"h":1.9,"i":1.7,"j":1.4,"l":1.2,"m":0.9,"n":0.7,"p":0.5,"q":0.3,"r":0.1},
{"t":19.8,"u":20,"a":2.7,"b":2.6,"c":2.4,"d":2.2,"e":2.1,"f":1.9,"g":1.7,"h":1.5,"i":1.3,"j":1.1,"l":0.9,"m":0.8,"n":0.6,"p":0.4,"q":0.2,"r":0.1}],
"cb":[{"v":-4,"w":-3.9},{"v":-3.9,"w":-3.8},{"v":-3.8,"w":-3.7},{"v":-3.7,"w":-3.6},{"v":-3.6,"w":-3.5},{"v":-3.5,"w":-3.4},{"v":-3.4,"w":-3.3},{"v":-3.3,"w":-3.2},{"v":-3.2,"w":-3.1},{"v":-3.1,"w":-3},{"v":-3,"w":-2.9},{"v":-2.9,"w":-2.8},{"v":-2.8,"w":-2.7},{"v":-2.7,"w":-2.6},{"v":-2.6,"w":-2.5},{"v":-2.5,"w":-2.4},{"v":-2.4,"w":-2.3},{"v":-2.3,"w":-2.2},{"v":-2.2,"w":-2.1},{"v":-2.1,"w":-2},{"v":-2,"w":-1.9},{"v":-1.9,"w":-1.8},{"v":-1.8,"w":-1.7},{"v":-1.7,"w":-1.6},{"v":-1.6,"w":-1.5},{"v":-1.5,"w":-1.4},{"v":-1.4,"w":-1.3},{"v":-1.3,"w":-1.2},{"v":-1.2,"w":-1.1},{"v":-1.1,"w":-1},{"v":-1,"w":-0.9},{"v":-0.9,"w":-0.8},{"v":-0.8,"w":-0.7},{"v":-0.7,"w":-0.6},{"v":-0.6,"w":-0.5},{"v":-0.5,"w":-0.4},{"v":-0.4,"w":-0.3},{"v":-0.3,"w":-0.2},{"v":-0.2,"w":-0.1},{"v":-0.1,"w":0},{"v":0,"w":0.1},{"v":0.1,"w":0.2},{"v":0.2,"w":0.3},{"v":0.3,"w":0.4},{"v":0.4,"w":0.5},{"v":0.5,"w":0.6},{"v":0.6,"w":0.7},{"v":0.7,"w":0.8},{"v":0.8,"w":0.9},{"v":0.9,"w":1},{"v":1,"w":1.1},{"v":1.1,"w":1.2},{"v":1.2,"w":1.3},{"v":1.3,"w":1.4},{"v":1.4,"w":1.5},{"v":1.5,"w":1.6},{"v":1.6,"w":1.7},{"v":1.7,"w":1.8},{"v":1.8,"w":1.9},{"v":1.9,"w":2},{"v":2,"w":2.1},{"v":2.1,"w":2.2},{"v":2.2,"w":2.3},{"v":2.3,"w":2.4},{"v":2.4,"w":2.5},{"v":2.5,"w":2.6},{"v":2.6,"w":2.7},{"v":2.7,"w":2.8},{"v":2.8,"w":2.9},{"v":2.9,"w":3},{"v":3,"w":3.1},{"v":3.1,"w":3.2},{"v":3.2,"w":3.3},{"v":3.3,"w":3.4},{"v":3.4,"w":3.5},{"v":3.5,"w":3.6},{"v":3.6,"w":3.7},{"v":3.7,"w":3.8},{"v":3.8,"w":3.9},{"v":3.9,"w":4}]},
"concat":[
{"width":1775,"height":727,"data":{"name":"bz"},"transform":[{"fold":["o","m","b","c","d","e","f","g","h"],"as":["k","v"]},{"lookup":"k","from":{"data":{"name":"bk"},"key":"k","fields":["y1","y2","y3","y4"]}}],"resolve":{"axis":{"x":"independent","y":"independent"}},"layer":[
{"mark":{"type":"rect"},"encoding":{"x":{"field":"t","type":"quantitative","scale":{"domain":[0,20],"round":true,"nice":false,"zero":false},"axis":{"zindex":1,"orient":"bottom","values":[0,5,10,15,20],"labels":false,"title":null}},"x2":{"field":"u"},"y":{"field":"y1","type":"quantitative","scale":{"domain":[-0.5,0.5],"round":true,"nice":false,"zero":false},"axis":{"zindex":1,"orient":"left","values":[-0.5,-0.25,0,0.25],"format":".2f","title":"x","labelPadding":80,"labelOffset":3,"titlePadding":80}},"y2":{"field":"y2"},"color":{"field":"v","type":"quantitative","legend":null,"scale":{"domain":[-4,-3.2,-2.4,-1.6,-0.8,0,0.8,1.6,2.4,3.2,4],"range":["#67001f","#b2182b","#d6604d","#f4a582","#fddbc7","#f7f7f7","#d1e5f0","#92c5de","#4393c3","#2166ac","#053061"],"clamp":true}}}},
{"mark":{"type":"rect"},"encoding":{"x":{"field":"t","type":"quantitative","scale":{"domain":[0,20],"round":true,"nice":false,"zero":false},"axis":{"zindex":1,"orient":"top","values":[0,5,10,15,20],"labels":false,"title":null}},"x2":{"field":"u"},"y":{"field":"y3","type":"quantitative","scale":{"domain":[-0.5,0.5],"round":true,"nice":false,"zero":false},"axis":{"zindex":1,"orient":"right","values":[],"labels":false,"ticks":false,"title":null}},"y2":{"field":"y4"},"color":{"field":"v","type":"quantitative","legend":null,"scale":{"domain":[-4,-3.2,-2.4,-1.6,-0.8,0,0.8,1.6,2.4,3.2,4],"range":["#67001f","#b2182b","#d6604d","#f4a582","#fddbc7","#f7f7f7","#d1e5f0","#92c5de","#4393c3","#2166ac","#053061"],"clamp":true}}}},
{"mark":{"type":"text","text":"B","font":"DejaVu Sans","fontStyle":"italic","fontSize":88,"baseline":"alphabetic","align":"left","dx":-48,"dy":-33},"encoding":{"x":{"datum":10,"type":"quantitative","axis":null},"y":{"datum":0.5,"type":"quantitative","axis":null}}},
{"mark":{"type":"text","text":"z","font":"DejaVu Sans","fontStyle":"italic","fontSize":62,"baseline":"alphabetic","align":"left","dx":12,"dy":-18},"encoding":{"x":{"datum":10,"type":"quantitative","axis":null},"y":{"datum":0.5,"type":"quantitative","axis":null}}}]},
{"width":37,"height":727,"data":{"name":"cb"},"resolve":{"axis":{"x":"independent","y":"independent"}},"layer":[
{"mark":{"type":"rect"},"encoding":{"x":{"datum":0,"type":"quantitative","scale":{"domain":[0,1],"nice":false,"zero":false},"axis":{"zindex":1,"orient":"bottom","values":[],"labels":false,"ticks":false,"title":null}},"x2":{"datum":1},"y":{"field":"v","type":"quantitative","scale":{"domain":[-4,4],"round":true,"nice":false,"zero":false},"axis":{"zindex":1,"orient":"left","values":[],"labels":false,"ticks":false,"title":null}},"y2":{"field":"w"},"color":{"field":"v","type":"quantitative","legend":null,"scale":{"domain":[-4,-3.2,-2.4,-1.6,-0.8,0,0.8,1.6,2.4,3.2,4],"range":["#67001f","#b2182b","#d6604d","#f4a582","#fddbc7","#f7f7f7","#d1e5f0","#92c5de","#4393c3","#2166ac","#053061"],"clamp":true}}}},
{"mark":{"type":"rect"},"encoding":{"x":{"datum":0,"type":"quantitative","scale":{"domain":[0,1],"nice":false,"zero":false},"axis":{"zindex":1,"orient":"top","values":[],"labels":false,"ticks":false,"title":null}},"x2":{"datum":1},"y":{"field":"v","type":"quantitative","scale":{"domain":[-4,4],"round":true,"nice":false,"zero":false},"axis":{"zindex":1,"orient":"right","values":[-4,-2,0,2,4],"tickSize":19,"tickWidth":4,"labelPadding":13,"labelOffset":2,"title":null}},"y2":{"field":"w"},"color":{"field":"v","type":"quantitative","legend":null,"scale":{"domain":[-4,-3.2,-2.4,-1.6,-0.8,0,0.8,1.6,2.4,3.2,4],"range":["#67001f","#b2182b","#d6604d","#f4a582","#fddbc7","#f7f7f7","#d1e5f0","#92c5de","#4393c3","#2166ac","#053061"],"clamp":true}}}},
{"mark":{"type":"text","text":"1e−9","font":"DejaVu Serif","fontSize":80,"baseline":"alphabetic","align":"right","dx":-4,"dy":-16},"encoding":{"x":{"datum":1,"type":"quantitative","axis":null},"y":{"datum":4,"type":"quantitative","axis":null}}}]},
{"width":1775,"height":727,"data":{"name":"vz"},"transform":[{"fold":["a","b","c","d","e","f","g","h","i","j","l","m","n","p","q","r"],"as":["k","v"]},{"lookup":"k","from":{"data":{"name":"bv"},"key":"k","fields":["y1","y2","y3","y4","y5","y6","y7","y8"]}}],"resolve":{"axis":{"x":"independent","y":"independent"},"scale":{"color":"independent"}},"layer":[
{"mark":{"type":"rect"},"encoding":{"x":{"field":"t","type":"quantitative","scale":{"domain":[0,20],"round":true,"nice":false,"zero":false},"axis":{"zindex":1,"orient":"bottom","values":[0,5,10,15,20],"labelPadding":71,"title":"t","titlePadding":22}},"x2":{"field":"u"},"y":{"field":"y1","type":"quantitative","scale":{"domain":[-0.5,0.5],"round":true,"nice":false,"zero":false},"axis":{"zindex":1,"orient":"left","values":[-0.5,-0.25,0,0.25],"format":".2f","title":"x","labelPadding":80,"labelOffset":3,"titlePadding":80}},"y2":{"field":"y2"},"color":{"field":"v","type":"quantitative","legend":null,"scale":{"domain":[-4,-3.2,-2.4,-1.6,-0.8,0,0.8,1.6,2.4,3.2,4],"range":["#67001f","#b2182b","#d6604d","#f4a582","#fddbc7","#f7f7f7","#d1e5f0","#92c5de","#4393c3","#2166ac","#053061"],"clamp":true}}}},
{"mark":{"type":"rect"},"encoding":{"x":{"field":"t","type":"quantitative","scale":{"domain":[0,20],"round":true,"nice":false,"zero":false},"axis":{"zindex":1,"orient":"top","values":[0,5,10,15,20],"labels":false,"title":null}},"x2":{"field":"u"},"y":{"field":"y3","type":"quantitative","scale":{"domain":[-0.5,0.5],"round":true,"nice":false,"zero":false},"axis":{"zindex":1,"orient":"right","values":[-0.5,-0.25,0,0.25],"labels":false,"title":null}},"y2":{"field":"y4"},"color":{"field":"v","type":"quantitative","legend":null,"scale":{"domain":[-4,-3.2,-2.4,-1.6,-0.8,0,0.8,1.6,2.4,3.2,4],"range":["#67001f","#b2182b","#d6604d","#f4a582","#fddbc7","#f7f7f7","#d1e5f0","#92c5de","#4393c3","#2166ac","#053061"],"clamp":true}}}},
{"mark":{"type":"rect"},"encoding":{"x":{"field":"t","type":"quantitative","scale":{"domain":[0,20],"round":true,"nice":false,"zero":false},"axis":null},"x2":{"field":"u"},"y":{"field":"y5","type":"quantitative","scale":{"domain":[-0.5,0.5],"round":true,"nice":false,"zero":false},"axis":null},"y2":{"field":"y6"},"color":{"field":"v","type":"quantitative","legend":null,"scale":{"domain":[-4,-3.2,-2.4,-1.6,-0.8,0,0.8,1.6,2.4,3.2,4],"range":["#053061","#2166ac","#4393c3","#92c5de","#d1e5f0","#f7f7f7","#fddbc7","#f4a582","#d6604d","#b2182b","#67001f"],"clamp":true}}}},
{"mark":{"type":"rect"},"encoding":{"x":{"field":"t","type":"quantitative","scale":{"domain":[0,20],"round":true,"nice":false,"zero":false},"axis":null},"x2":{"field":"u"},"y":{"field":"y7","type":"quantitative","scale":{"domain":[-0.5,0.5],"round":true,"nice":false,"zero":false},"axis":null},"y2":{"field":"y8"},"color":{"field":"v","type":"quantitative","legend":null,"scale":{"domain":[-4,-3.2,-2.4,-1.6,-0.8,0,0.8,1.6,2.4,3.2,4],"range":["#053061","#2166ac","#4393c3","#92c5de","#d1e5f0","#f7f7f7","#fddbc7","#f4a582","#d6604d","#b2182b","#67001f"],"clamp":true}}}},
{"mark":{"type":"text","text":"v","font":"DejaVu Sans","fontStyle":"italic","fontSize":88,"baseline":"alphabetic","align":"left","dx":-38,"dy":-34},"encoding":{"x":{"datum":10,"type":"quantitative","axis":null},"y":{"datum":0.5,"type":"quantitative","axis":null}}},
{"mark":{"type":"text","text":"z","font":"DejaVu Sans","fontStyle":"italic","fontSize":62,"baseline":"alphabetic","align":"left","dx":9,"dy":-20},"encoding":{"x":{"datum":10,"type":"quantitative","axis":null},"y":{"datum":0.5,"type":"quantitative","axis":null}}}]},
{"width":37,"height":727,"data":{"name":"cb"},"resolve":{"axis":{"x":"independent","y":"independent"}},"layer":[
{"mark":{"type":"rect"},"encoding":{"x":{"datum":0,"type":"quantitative","scale":{"domain":[0,1],"nice":false,"zero":false},"axis":{"zindex":1,"orient":"bottom","values":[],"labels":false,"ticks":false,"title":null}},"x2":{"datum":1},"y":{"field":"v","type":"quantitative","scale":{"domain":[-4,4],"round":true,"nice":false,"zero":false},"axis":{"zindex":1,"orient":"left","values":[],"labels":false,"ticks":false,"title":null}},"y2":{"field":"w"},"color":{"field":"v","type":"quantitative","legend":null,"scale":{"domain":[-4,-3.2,-2.4,-1.6,-0.8,0,0.8,1.6,2.4,3.2,4],"range":["#67001f","#b2182b","#d6604d","#f4a582","#fddbc7","#f7f7f7","#d1e5f0","#92c5de","#4393c3","#2166ac","#053061"],"clamp":true}}}},
{"mark":{"type":"rect"},"encoding":{"x":{"datum":0,"type":"quantitative","scale":{"domain":[0,1],"nice":false,"zero":false},"axis":{"zindex":1,"orient":"top","values":[],"labels":false,"ticks":false,"title":null}},"x2":{"datum":1},"y":{"field":"v","type":"quantitative","scale":{"domain":[-4,4],"round":true,"nice":false,"zero":false},"axis":{"zindex":1,"orient":"right","values":[-4,-2,0,2,4],"tickSize":19,"tickWidth":4,"labelPadding":13,"labelOffset":2,"title":null}},"y2":{"field":"w"},"color":{"field":"v","type":"quantitative","legend":null,"scale":{"domain":[-4,-3.2,-2.4,-1.6,-0.8,0,0.8,1.6,2.4,3.2,4],"range":["#67001f","#b2182b","#d6604d","#f4a582","#fddbc7","#f7f7f7","#d1e5f0","#92c5de","#4393c3","#2166ac","#053061"],"clamp":true}}}},
{"mark":{"type":"text","text":"1e−9","font":"DejaVu Serif","fontSize":80,"baseline":"alphabetic","align":"right","dx":-4,"dy":-16},"encoding":{"x":{"datum":1,"type":"quantitative","axis":null},"y":{"datum":4,"type":"quantitative","axis":null}}}]}],
"columns":2,"spacing":{"row":146,"column":111},"bounds":"flush"}
